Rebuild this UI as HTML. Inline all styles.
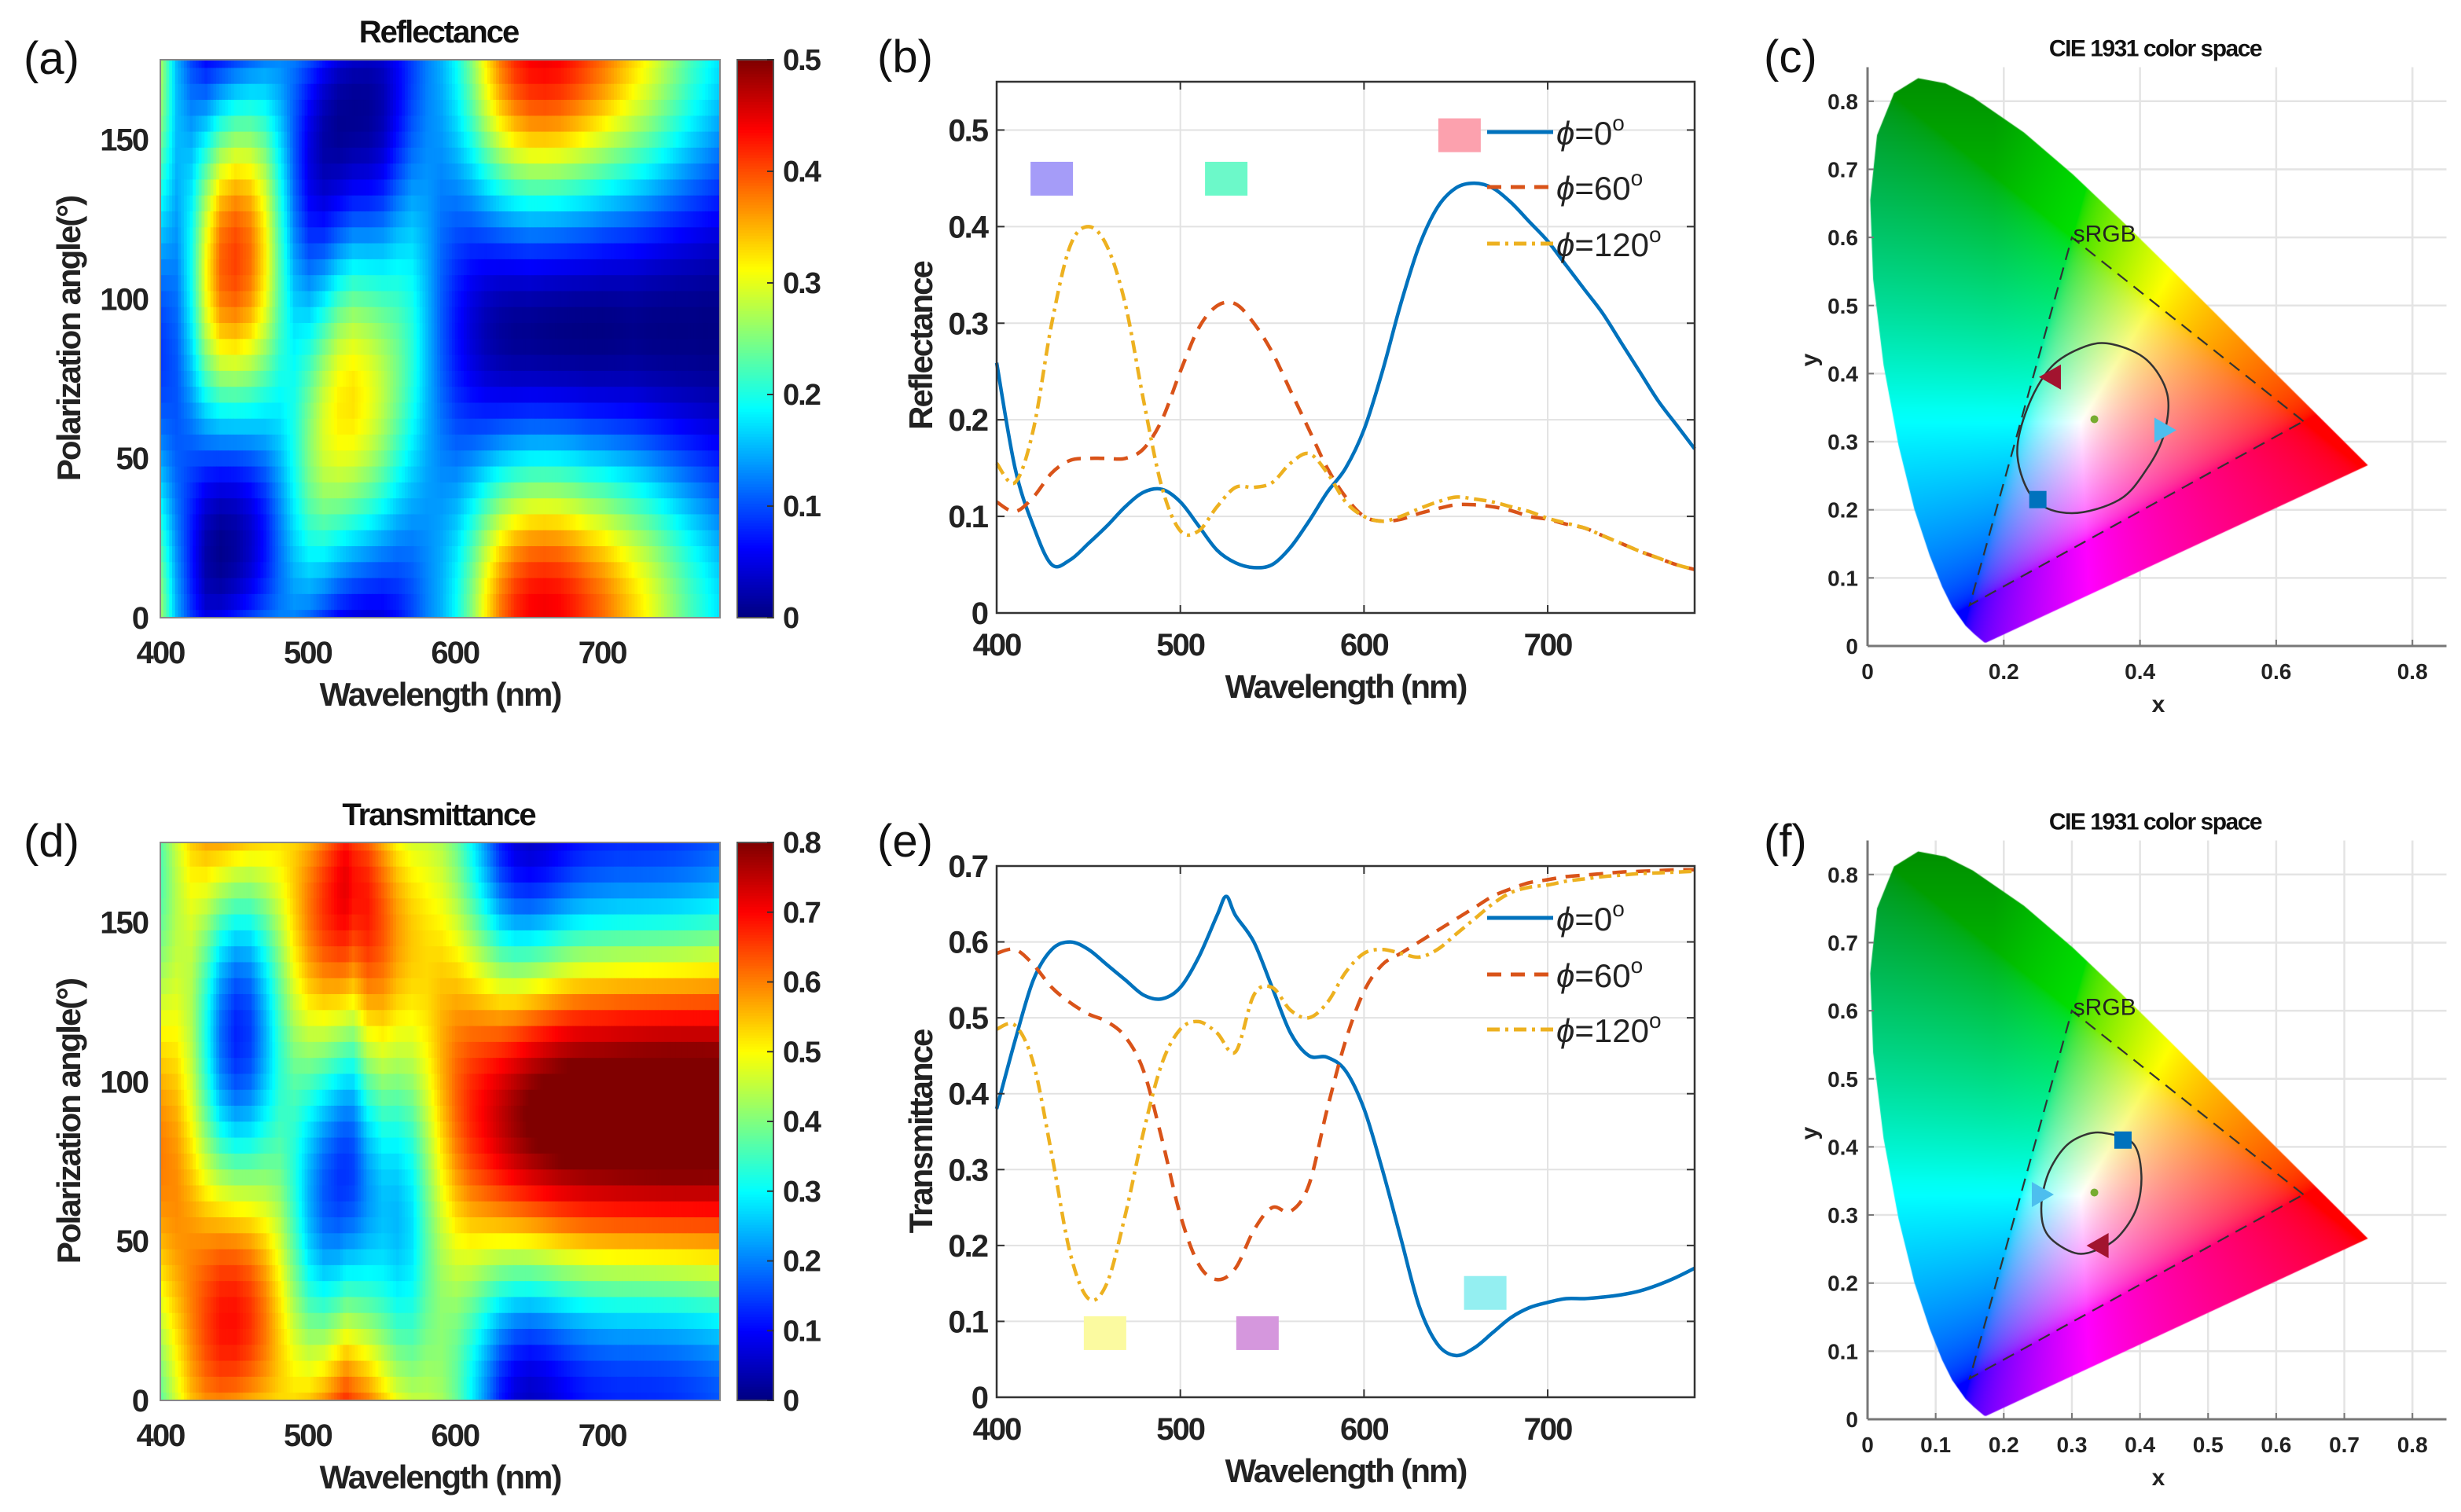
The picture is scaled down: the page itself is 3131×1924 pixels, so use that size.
<!DOCTYPE html>
<html><head><meta charset="utf-8">
<style>
html,body{margin:0;padding:0;background:#fff;}
#wrap{position:relative;width:3131px;height:1924px;overflow:hidden;background:#fff;}
svg,canvas{position:absolute;left:0;top:0;}
text{font-family:"Liberation Sans",Arial,sans-serif;}
</style></head>
<body>
<div id="wrap">
<svg id="base" width="3131" height="1924"></svg>
<canvas id="cieC"></canvas>
<canvas id="cieF"></canvas>
<svg id="top" width="3131" height="1924"></svg>
</div>
<script>
// ---------- DATA ----------
const wl = [400,410,420,430,440,450,460,470,480,490,500,510,520,530,540,550,560,570,580,590,600,610,620,630,640,650,660,670,680,690,700,710,720,730,740,750,760,770,780];
const refl0 = [0.259,0.15,0.09,0.05,0.055,0.072,0.09,0.11,0.125,0.128,0.115,0.09,0.065,0.052,0.047,0.05,0.068,0.095,0.125,0.15,0.19,0.25,0.32,0.38,0.42,0.44,0.445,0.44,0.425,0.405,0.385,0.36,0.335,0.31,0.28,0.25,0.22,0.195,0.17];
const refl60 = [0.115,0.105,0.12,0.145,0.158,0.16,0.16,0.16,0.17,0.2,0.25,0.295,0.318,0.32,0.3,0.27,0.23,0.19,0.15,0.12,0.1,0.095,0.097,0.103,0.108,0.112,0.112,0.11,0.106,0.1,0.097,0.092,0.088,0.08,0.072,0.064,0.057,0.05,0.045];
const refl120 = [0.155,0.135,0.19,0.3,0.38,0.4,0.38,0.32,0.22,0.13,0.085,0.085,0.11,0.13,0.13,0.135,0.155,0.165,0.145,0.115,0.1,0.095,0.1,0.108,0.115,0.12,0.118,0.115,0.11,0.105,0.098,0.093,0.088,0.08,0.072,0.064,0.057,0.05,0.045];
const trans0 = [0.38,0.47,0.55,0.59,0.6,0.59,0.57,0.55,0.53,0.525,0.54,0.58,0.635,0.635,0.6,0.54,0.48,0.45,0.448,0.43,0.38,0.3,0.21,0.12,0.07,0.055,0.065,0.085,0.105,0.118,0.125,0.13,0.13,0.132,0.135,0.14,0.148,0.158,0.17];
const trans60 = [0.585,0.59,0.57,0.54,0.52,0.505,0.495,0.475,0.43,0.34,0.24,0.175,0.155,0.17,0.22,0.25,0.245,0.28,0.38,0.47,0.535,0.57,0.585,0.6,0.615,0.63,0.645,0.66,0.67,0.678,0.682,0.686,0.688,0.69,0.692,0.693,0.694,0.695,0.695];
const trans120 = [0.485,0.49,0.44,0.32,0.19,0.13,0.15,0.24,0.35,0.44,0.485,0.495,0.48,0.455,0.53,0.54,0.51,0.5,0.52,0.56,0.585,0.59,0.585,0.58,0.59,0.61,0.63,0.65,0.665,0.672,0.675,0.68,0.683,0.686,0.688,0.69,0.691,0.692,0.693];
const trans0SpikeWl = [520,525,530];
const trans0SpikeVal = [0.635,0.66,0.635];
const polAngles = [0,5,10,15,20,25,30,35,40,45,50,55,60,65,70,75,80,85,90,95,100,105,110,115,120,125,130,135,140,145,150,155,160,165,170,175];
const wlTicks = [400,500,600,700];
const angTicks = [0,50,100,150];
const reflTicks = [0,0.1,0.2,0.3,0.4,0.5];
const transTicks = [0,0.1,0.2,0.3,0.4,0.5,0.6,0.7];
const cbReflTicks = [0,0.1,0.2,0.3,0.4,0.5];
const cbTransTicks = [0,0.1,0.2,0.3,0.4,0.5,0.6,0.7,0.8];
const cieTicksC = [0,0.2,0.4,0.6,0.8];
const cieTicksF = [0,0.1,0.2,0.3,0.4,0.5,0.6,0.7,0.8];
const cieYTicks = [0,0.1,0.2,0.3,0.4,0.5,0.6,0.7,0.8];
const locusX = [0.1741,0.1714,0.1644,0.1566,0.1440,0.1241,0.1096,0.0913,0.0687,0.0454,0.0235,0.0082,0.0039,0.0139,0.0389,0.0743,0.1142,0.1547,0.2296,0.3016,0.3731,0.4441,0.5125,0.5752,0.6270,0.6915,0.7190,0.7347];
const locusY = [0.0050,0.0051,0.0109,0.0177,0.0297,0.0578,0.0868,0.1327,0.2007,0.2950,0.4127,0.5384,0.6548,0.7502,0.8120,0.8338,0.8262,0.8059,0.7543,0.6923,0.6245,0.5547,0.4866,0.4242,0.3725,0.3083,0.2809,0.2653];
const srgbX = [0.64,0.30,0.15];
const srgbY = [0.33,0.60,0.06];
const loopCX = [0.36,0.41,0.44,0.435,0.41,0.37,0.30,0.245,0.22,0.235,0.27,0.32];
const loopCY = [0.443,0.42,0.37,0.31,0.26,0.215,0.195,0.215,0.28,0.35,0.41,0.44];
const loopFX = [0.35,0.39,0.402,0.395,0.37,0.34,0.305,0.265,0.255,0.265,0.29,0.32];
const loopFY = [0.42,0.405,0.36,0.31,0.27,0.25,0.244,0.27,0.31,0.36,0.4,0.418];
const markC = {red:[0.27,0.395], cyan:[0.435,0.317], blue:[0.25,0.215], white:[0.333,0.333]};
const markF = {red:[0.34,0.255], cyan:[0.255,0.33], blue:[0.375,0.41], white:[0.333,0.333]};
const swatchR = [[430,0.45,'#a59cf8'],[525,0.45,'#6cf9c9'],[652,0.495,'#fca1ae']];
const swatchT = [[459,0.085,'#fbfaa0'],[542,0.085,'#d597dd'],[666,0.138,'#94eff1']];

// ---------- HELPERS ----------
const NS='http://www.w3.org/2000/svg';
const base=document.getElementById('base'), top_=document.getElementById('top');
function mk(parent,tag,attrs,txt){const e=document.createElementNS(NS,tag);for(const k in attrs)e.setAttribute(k,attrs[k]);if(txt!==undefined)e.textContent=txt;parent.appendChild(e);return e;}
function jet(v){v=Math.max(0,Math.min(1,v));const c=t=>Math.round(255*Math.max(0,Math.min(1,1.5-Math.abs(t))));return `rgb(${c(4*v-3)},${c(4*v-2)},${c(4*v-1)})`;}
function interpXY(xs,ys,l){let i=0;while(i<xs.length-2&&xs[i+1]<l)i++;const t=(l-xs[i])/(xs[i+1]-xs[i]);return ys[i]*(1-t)+ys[i+1]*t;}
function mergeSpike(xs,ys,sx,sv){const m=xs.map((x,i)=>[x,ys[i]]).filter(p=>sx.indexOf(p[0])<0);sx.forEach((x,i)=>m.push([x,sv[i]]));m.sort((a,b)=>a[0]-b[0]);return [m.map(p=>p[0]),m.map(p=>p[1])];}
const trans0Full = mergeSpike(wl,trans0,trans0SpikeWl,trans0SpikeVal);
function crPath(pts){let d=`M${pts[0][0].toFixed(1)},${pts[0][1].toFixed(1)}`;for(let i=0;i<pts.length-1;i++){const p0=pts[Math.max(0,i-1)],p1=pts[i],p2=pts[i+1],p3=pts[Math.min(pts.length-1,i+2)];const c1=[p1[0]+(p2[0]-p0[0])/6,p1[1]+(p2[1]-p0[1])/6],c2=[p2[0]-(p3[0]-p1[0])/6,p2[1]-(p3[1]-p1[1])/6];d+=`C${c1[0].toFixed(1)},${c1[1].toFixed(1)} ${c2[0].toFixed(1)},${c2[1].toFixed(1)} ${p2[0].toFixed(1)},${p2[1].toFixed(1)}`;}return d;}
function crClosed(pts){const n=pts.length;let d=`M${pts[0][0].toFixed(1)},${pts[0][1].toFixed(1)}`;for(let i=0;i<n;i++){const p0=pts[(i-1+n)%n],p1=pts[i],p2=pts[(i+1)%n],p3=pts[(i+2)%n];const c1=[p1[0]+(p2[0]-p0[0])/6,p1[1]+(p2[1]-p0[1])/6],c2=[p2[0]-(p3[0]-p1[0])/6,p2[1]-(p3[1]-p1[1])/6];d+=`C${c1[0].toFixed(1)},${c1[1].toFixed(1)} ${c2[0].toFixed(1)},${c2[1].toFixed(1)} ${p2[0].toFixed(1)},${p2[1].toFixed(1)}`;}return d+'Z';}
const TF='font-weight:bold;letter-spacing:-2px;';

// ---------- HEATMAP ----------
function heatmap(o){
  const g=mk(base,'g',{});
  
  
  const X0=204,X1=916,Y0=o.top,Y1=o.top+710;
  const sx=l=>X0+(l-400)/380*(X1-X0), sy=p=>Y1-p/175*(Y1-Y0);
  for(let l=400;l<780;l+=2){
    const r0=interpXY(o.c0[0],o.c0[1],l),r60=interpXY(wl,o.c60,l),r120=interpXY(wl,o.c120,l);
    const a=(r0+r60+r120)/3,b=r0-a,c=(r60-r120)/Math.sqrt(3);
    for(const p of polAngles){
      const ph=p*Math.PI/180;const v=a+b*Math.cos(2*ph)+c*Math.sin(2*ph);
      const ya=sy(Math.min(175,p+2.5)),yb=sy(Math.max(0,p-2.5));
      const r=mk(g,'rect',{x:sx(l).toFixed(2),y:(ya-0.3).toFixed(2),width:(sx(l+2)-sx(l)+0.6).toFixed(2),height:(yb-ya+0.6).toFixed(2),fill:jet(v/o.vmax)});
      
      
    }
  }
  const bx=mk(base,'rect',{x:X0,y:Y0,width:X1-X0,height:Y1-Y0,fill:'none',stroke:'#888','stroke-width':2});
  
  
  for(const t of wlTicks){const e=mk(base,'text',{x:sx(t),y:Y1+58,'text-anchor':'middle','font-size':40,style:TF,fill:'#222'},t);
    
    }
  for(const t of angTicks){const e=mk(base,'text',{x:188,y:sy(t)+14,'text-anchor':'end','font-size':40,style:TF,fill:'#222'},t);
    
    }
  let e=mk(base,'text',{x:560,y:Y1+112,'text-anchor':'middle','font-size':42,style:TF,fill:'#222'},'Wavelength (nm)');
  
  
  e=mk(base,'text',{x:0,y:0,'text-anchor':'middle','font-size':42,style:TF,fill:'#222',transform:`translate(102,${(Y0+Y1)/2}) rotate(-90)`},'Polarization angle(°)');
  
  
  e=mk(base,'text',{x:558,y:Y0-22,'text-anchor':'middle','font-size':40,style:TF,fill:'#111'},o.title);
  
  
  e=mk(base,'text',{x:30,y:Y0+18,'font-size':58,fill:'#111'},o.label);
  
  
  const cg=mk(base,'g',{});
  
  
  for(let i=0;i<200;i++){const y=Y1-(i+1)*(Y1-Y0)/200;mk(cg,'rect',{x:938,y:y.toFixed(2),width:46,height:((Y1-Y0)/200+0.6).toFixed(2),fill:jet((i+0.5)/200)});}
  mk(cg,'rect',{x:938,y:Y0,width:46,height:Y1-Y0,fill:'none',stroke:'#555','stroke-width':2});
  for(const t of o.cbTicks){const y=Y1-t/o.vmax*(Y1-Y0);
    mk(cg,'line',{x1:976,x2:984,y1:y,y2:y,stroke:'#333','stroke-width':2});
    const tl=mk(base,'text',{x:996,y:y+13,'font-size':38,style:TF,fill:'#222'},String(t));
    
    }
}
heatmap({name:'reflectance-heatmap',top:76,c0:[wl,refl0],c60:refl60,c120:refl120,vmax:0.5,cbTicks:cbReflTicks,title:'Reflectance',label:'(a)'});
heatmap({name:'transmittance-heatmap',top:1072,c0:trans0Full,c60:trans60,c120:trans120,vmax:0.8,cbTicks:cbTransTicks,title:'Transmittance',label:'(d)'});

// ---------- LINE PLOTS ----------
function linePlot(o){
  const X0=1268,X1=2156,Y0=o.top,Y1=o.bottom;
  const sx=l=>X0+(l-400)/380*(X1-X0), sy=v=>Y1-v/o.ymax*(Y1-Y0);
  const g=mk(base,'g',{});
  
  
  for(const t of wlTicks){const l=mk(g,'line',{x1:sx(t),x2:sx(t),y1:Y0,y2:Y1,stroke:'#e2e2e2','stroke-width':2});
    
    }
  for(const t of o.yTicks){const l=mk(g,'line',{x1:X0,x2:X1,y1:sy(t),y2:sy(t),stroke:'#e2e2e2','stroke-width':2});
    
    }
  for(const s of o.swatches){const r=mk(g,'rect',{x:sx(s[0])-27,y:sy(s[1])-21,width:54,height:43,fill:s[2]});
    
    }
  const series=[[o.c0,'#0072BD','none','phi-0'],[[wl,o.c60],'#D95319','18 12','phi-60'],[[wl,o.c120],'#EDB120','16 7 4 7','phi-120']];
  for(const s of series){const pts=s[0][0].map((l,i)=>[sx(l),sy(s[0][1][i])]);
    const p=mk(g,'path',{d:crPath(pts),fill:'none',stroke:s[1],'stroke-width':4.5,'stroke-dasharray':s[2]});
    
    }
  mk(g,'rect',{x:X0,y:Y0,width:X1-X0,height:Y1-Y0,fill:'none',stroke:'#333','stroke-width':2.5});
  for(const t of wlTicks){mk(g,'line',{x1:sx(t),x2:sx(t),y1:Y1,y2:Y1-10,stroke:'#333','stroke-width':2});mk(g,'line',{x1:sx(t),x2:sx(t),y1:Y0,y2:Y0+10,stroke:'#333','stroke-width':2});
    const e=mk(g,'text',{x:sx(t),y:Y1+54,'text-anchor':'middle','font-size':40,style:TF,fill:'#222'},t);
    
    }
  for(const t of o.yTicks){mk(g,'line',{x1:X0,x2:X0+10,y1:sy(t),y2:sy(t),stroke:'#333','stroke-width':2});mk(g,'line',{x1:X1,x2:X1-10,y1:sy(t),y2:sy(t),stroke:'#333','stroke-width':2});
    const e=mk(g,'text',{x:X0-12,y:sy(t)+14,'text-anchor':'end','font-size':40,style:TF,fill:'#222'},String(t));
    
    }
  let e=mk(g,'text',{x:1712,y:Y1+108,'text-anchor':'middle','font-size':42,style:TF,fill:'#222'},'Wavelength (nm)');
  
  
  e=mk(g,'text',{x:0,y:0,'text-anchor':'middle','font-size':42,style:TF,fill:'#222',transform:`translate(1186,${o.ylabY}) rotate(-90)`},o.ylabel);
  
  
  e=mk(g,'text',{x:1116,y:o.labY,'font-size':58,fill:'#111'},o.label);
  
  
  const lg=mk(g,'g',{});
  
  
  const labs=['0','60','120'];
  series.forEach((s,i)=>{const y=o.legY[i];
    const ln=mk(lg,'line',{x1:1892,x2:1976,y1:y,y2:y,stroke:s[1],'stroke-width':5,'stroke-dasharray':s[2]});
    
    
    const t=mk(lg,'text',{x:1980,y:y+16,'font-size':42,fill:'#222'});
    
    
    mk(t,'tspan',{'font-style':'italic'},'ϕ');mk(t,'tspan',{},'='+labs[i]);mk(t,'tspan',{dy:-18,'font-size':28},'o');
  });
}
linePlot({name:'reflectance-spectra',top:104,bottom:780,ymax:0.55,yTicks:reflTicks,c0:[wl,refl0],c60:refl60,c120:refl120,swatches:swatchR,ylabel:'Reflectance',ylabY:440,labY:92,label:'(b)',legY:[168,238,310]});
linePlot({name:'transmittance-spectra',top:1102,bottom:1778,ymax:0.7,yTicks:transTicks,c0:trans0Full,c60:trans60,c120:trans120,swatches:swatchT,ylabel:'Transmittance',ylabY:1440,labY:1090,label:'(e)',legY:[1168,1240,1310]});

// ---------- CIE ----------
const U=866.5;
function cie(o){
  const X0=2376,Y0=o.y0;
  const sx=v=>X0+v*U, sy=v=>Y0-v*U;
  const g=mk(base,'g',{});
  
  
  for(const t of o.xt){if(t===0)continue;const l=mk(g,'line',{x1:sx(t),x2:sx(t),y1:sy(0.85),y2:Y0,stroke:'#e4e4e4','stroke-width':2.5});
    
    }
  for(const t of cieYTicks){if(t===0)continue;const l=mk(g,'line',{x1:X0,x2:sx(0.85),y1:sy(t),y2:sy(t),stroke:'#e4e4e4','stroke-width':2.5});
    
    }
  const cv=document.getElementById(o.canvas);const W=Math.round(0.76*U),H=Math.round(0.86*U);
  cv.width=W;cv.height=H;cv.style.left=X0+'px';cv.style.top=(Y0-H)+'px';
  const ctx=cv.getContext('2d');const img=ctx.createImageData(W,H);
  const gam=v=>v<=0.0031308?12.92*v:1.055*Math.pow(v,1/2.4)-0.055;
  for(let py=0;py<H;py++)for(let px=0;px<W;px++){
    const x=px/U,y=(H-py)/U;if(y<=0.001)continue;
    const X=x/y,Z=(1-x-y)/y;
    let r=3.2406*X-1.5372-0.4986*Z,gg=-0.9689*X+1.8758+0.0415*Z,b=0.0557*X-0.2040+1.0570*Z;
    r=Math.max(0,r);gg=Math.max(0,gg);b=Math.max(0,b);const m=Math.max(r,gg,b);
    const dk=1-0.45*Math.max(0,Math.min(1,(y-0.35)/0.5))*Math.max(0,Math.min(1,(0.36-x)/0.25+0.3));
    const i=(py*W+px)*4;img.data[i]=255*gam(r/m)*dk;img.data[i+1]=255*gam(gg/m)*dk;img.data[i+2]=255*gam(b/m)*dk;img.data[i+3]=255;}
  const off=document.createElement('canvas');off.width=W;off.height=H;off.getContext('2d').putImageData(img,0,0);
  ctx.beginPath();locusX.forEach((x,i)=>{const px=x*U,py=H-locusY[i]*U;i?ctx.lineTo(px,py):ctx.moveTo(px,py);});ctx.closePath();ctx.clip();ctx.drawImage(off,0,0);
  const t=mk(top_,'g',{});
  
  
  const tri=mk(t,'polygon',{points:srgbX.map((x,i)=>sx(x)+','+sy(srgbY[i])).join(' '),fill:'none',stroke:'#333','stroke-width':2.2,'stroke-dasharray':'16 10'});
  
  
  let e=mk(t,'text',{x:sx(0.302),y:sy(0.594),'font-size':30,fill:'#222'},'sRGB');
  
  
  const lp=mk(t,'path',{d:crClosed(o.lx.map((x,i)=>[sx(x),sy(o.ly[i])])),fill:'none',stroke:'#333','stroke-width':2.5});
  
  
  const m=o.mk;
  e=mk(t,'circle',{cx:sx(m.white[0]),cy:sy(m.white[1]),r:5,fill:'#77AC30'});
  
  
  let p=m.red;e=mk(t,'polygon',{points:`${sx(p[0])-16},${sy(p[1])} ${sx(p[0])+12},${sy(p[1])-16} ${sx(p[0])+12},${sy(p[1])+16}`,fill:'#A2142F'});
  
  
  p=m.cyan;e=mk(t,'polygon',{points:`${sx(p[0])+16},${sy(p[1])} ${sx(p[0])-12},${sy(p[1])-16} ${sx(p[0])-12},${sy(p[1])+16}`,fill:'#4DBEEE'});
  
  
  p=m.blue;e=mk(t,'rect',{x:sx(p[0])-11,y:sy(p[1])-11,width:22,height:22,fill:'#0072BD'});
  
  
  mk(t,'line',{x1:X0,x2:X0,y1:sy(0.85),y2:Y0,stroke:'#777','stroke-width':3});
  mk(t,'line',{x1:X0,x2:sx(0.85),y1:Y0,y2:Y0,stroke:'#777','stroke-width':3});
  for(const v of o.xt){mk(t,'line',{x1:sx(v),x2:sx(v),y1:Y0,y2:Y0-8,stroke:'#777','stroke-width':2});
    e=mk(t,'text',{x:sx(v),y:Y0+42,'text-anchor':'middle','font-size':28,style:'font-weight:bold;',fill:'#222'},String(v));
    
    }
  for(const v of cieYTicks){mk(t,'line',{x1:X0,x2:X0+8,y1:sy(v),y2:sy(v),stroke:'#777','stroke-width':2});
    e=mk(t,'text',{x:X0-12,y:sy(v)+10,'text-anchor':'end','font-size':28,style:'font-weight:bold;',fill:'#222'},String(v));
    
    }
  e=mk(t,'text',{x:2746,y:Y0+84,'text-anchor':'middle','font-size':30,style:'font-weight:bold;',fill:'#222'},'x');
  
  
  e=mk(t,'text',{x:0,y:0,'text-anchor':'middle','font-size':30,style:'font-weight:bold;',fill:'#222',transform:`translate(2312,${sy(0.42)}) rotate(-90)`},'y');
  
  
  e=mk(t,'text',{x:2742,y:sy(0.85)-14,'text-anchor':'middle','font-size':30,style:'font-weight:bold;letter-spacing:-1.5px;',fill:'#111'},'CIE 1931 color space');
  
  
  e=mk(t,'text',{x:2244,y:o.labY,'font-size':58,fill:'#111'},o.label);
  
  
}
cie({name:'cie-chart-c',canvas:'cieC',y0:822,xt:cieTicksC,lx:loopCX,ly:loopCY,mk:markC,label:'(c)',labY:92});
cie({name:'cie-chart-f',canvas:'cieF',y0:1806,xt:cieTicksF,lx:loopFX,ly:loopFY,mk:markF,label:'(f)',labY:1090});
</script>
</body></html>
